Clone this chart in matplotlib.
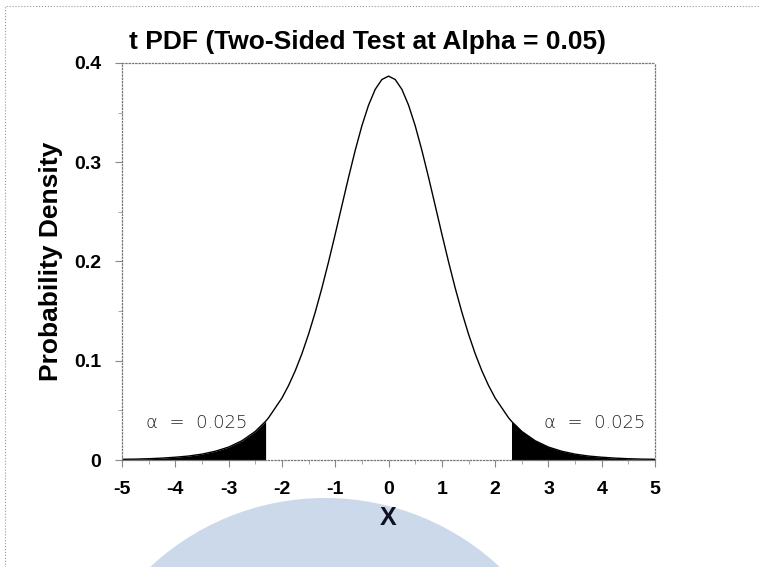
import matplotlib
matplotlib.use('Agg')
import matplotlib.pyplot as plt
from matplotlib.patches import Ellipse, Rectangle
import numpy as np

# values (t pdf, 8 df)
x_pts = [-5.0, -4.75, -4.5, -4.25, -4.0, -3.75, -3.5, -3.25, -3.0, -2.75, -2.5, -2.306,
         -2.25, -2.0, -1.875, -1.75, -1.625, -1.5, -1.375, -1.25, -1.125, -1.0,
         -0.875, -0.75, -0.625, -0.5, -0.375, -0.25, -0.125, 0.0,
         0.125, 0.25, 0.375, 0.5, 0.625, 0.75, 0.875, 1.0, 1.125, 1.25,
         1.375, 1.5, 1.625, 1.75, 1.875, 2.0, 2.25, 2.306, 2.5, 2.75,
         3.0, 3.25, 3.5, 3.75, 4.0, 4.25, 4.5, 4.75, 5.0]
density = [0.0007, 0.0009, 0.0013, 0.0019, 0.0028, 0.0040, 0.0059, 0.0088, 0.0130, 0.0194, 0.0288, 0.0390,
           0.0426, 0.0624, 0.0751, 0.0899, 0.1071, 0.1268, 0.1489, 0.1733, 0.1997, 0.2276,
           0.2563, 0.2848, 0.3120, 0.3367, 0.3575, 0.3734, 0.3833, 0.3867,
           0.3833, 0.3734, 0.3575, 0.3367, 0.3120, 0.2848, 0.2563, 0.2276, 0.1997, 0.1733,
           0.1489, 0.1268, 0.1071, 0.0899, 0.0751, 0.0624, 0.0426, 0.0390, 0.0288, 0.0194,
           0.0130, 0.0088, 0.0059, 0.0040, 0.0028, 0.0019, 0.0013, 0.0009, 0.0007]
t_crit = 2.306
alpha_label = 'α  =  0.025'

x = np.array(x_pts)
y = np.array(density)

plt.rcParams['font.family'] = ['Liberation Sans', 'DejaVu Sans']

W, H = 760, 567
fig = plt.figure(figsize=(W / 100, H / 100), dpi=100)

# pale blue disc behind the bottom of the page
disc = Ellipse((325 / W, 1 - 754 / H), 2 * 256 / W, 2 * 256 / H, transform=fig.transFigure,
               facecolor='#cbd9ea', edgecolor='none', zorder=-2)
fig.patches.append(disc)
frame = Rectangle((0.007, -0.1), 1.2, 1.09, transform=fig.transFigure, fill=False,
                  edgecolor='#999999', linestyle=':', linewidth=0.8, zorder=-2)
fig.patches.append(frame)

ax = fig.add_axes([0.1605, 0.1887, 0.7015, 0.7003])
ax.plot(x, y, color='black', linewidth=1.0)

left = x <= -t_crit
right = x >= t_crit
ax.fill_between(x[left], 0, y[left], color='black', linewidth=0)
ax.fill_between(x[right], 0, y[right], color='black', linewidth=0)

ax.text(-3.59, 0.037, alpha_label, fontsize=13, ha='center', va='center',
        family=['DejaVu Sans'], fontweight='light', color='#222222')
ax.text(3.87, 0.037, alpha_label, fontsize=13, ha='center', va='center',
        family=['DejaVu Sans'], fontweight='light', color='#222222')

ax.set_xlim(-5, 5)
ax.set_ylim(0, 0.4)
ax.set_xticks(range(-5, 6))
ax.set_xticklabels([str(v) for v in range(-5, 6)])
ax.set_xticks(np.arange(-4.5, 5, 1.0), minor=True)
ax.set_yticks([0, 0.1, 0.2, 0.3, 0.4])
ax.set_yticklabels(['0', '0.1', '0.2', '0.3', '0.4'])
ax.set_yticks(np.arange(0.05, 0.4, 0.1), minor=True)

for s in ax.spines.values():
    s.set_color('#777777')
    s.set_linestyle(':')
    s.set_linewidth(0.9)

ax.tick_params(axis='both', which='major', direction='out', length=5, width=0.8,
               color='#888888', labelsize=14, pad=10)
ax.tick_params(axis='both', which='minor', direction='out', length=3, width=0.6, color='#999999')
for lab in ax.get_xticklabels() + ax.get_yticklabels():
    lab.set_fontweight('bold')

ax.set_title('t PDF (Two-Sided Test at Alpha = 0.05)', fontsize=19, fontweight='bold', pad=10, x=0.46)
ax.set_xlabel('X', fontsize=18, fontweight='bold', labelpad=6, color='#111122')
ax.set_ylabel('Probability Density', fontsize=19, fontweight='bold', labelpad=8)

fig.savefig('out.png', dpi=100)
